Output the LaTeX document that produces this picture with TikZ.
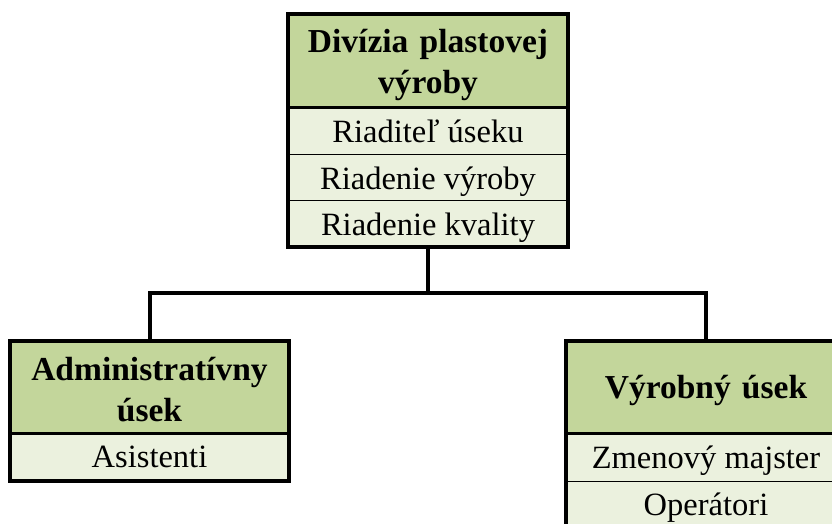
\documentclass[tikz,border=0pt]{standalone}
\usepackage{fontspec}
\setmainfont{Liberation Serif}
\definecolor{hdrgreen}{HTML}{C3D69B}
\definecolor{rowgreen}{HTML}{EBF1DE}
\begin{document}
\begin{tikzpicture}[x=1pt,y=-1pt,
  hdrcell/.style={fill=hdrgreen, inner sep=0pt, minimum width=279pt,
    minimum height=#1},
  hdrtext/.style={inner sep=0pt, anchor=base, text width=272pt, align=center,
    font=\fontsize{33.5}{41.5}\selectfont\bfseries},
  rowcell/.style={fill=rowgreen, inner sep=0pt, minimum width=279pt,
    minimum height=#1, text height=24pt, text depth=0pt,
    font=\fontsize{32.5}{38}\selectfont},
  boxframe/.style={line width=4pt, line join=miter},
  hdrsep/.style={line width=3pt},
  rowsep/.style={line width=1.5pt},
  conn/.style={line width=4pt, line join=miter}]
\clip (0,0) rectangle (832,524);

% division box
\node[hdrcell=93pt] (divh) at (428,60.5) {};
\node[hdrtext] (divt) at (428,52.5) {Divízia plastovej\\výroby};
\node[rowcell=47.5pt] (divr1) at (428,130.75) {Riaditeľ úseku};
\node[rowcell=46pt] (divr2) at (428,177.5) {Riadenie výroby};
\node[rowcell=46.5pt] (divr3) at (428,223.75) {Riadenie kvality};
\draw[hdrsep] (divh.south west) -- (divh.south east);
\draw[rowsep] (divr1.south west) -- (divr1.south east);
\draw[rowsep] (divr2.south west) -- (divr2.south east);
\draw[boxframe] (divh.north west) rectangle (divr3.south east);

% administration box
\node[hdrcell=92pt] (admh) at (149.5,387) {};
\node[hdrtext] (admt) at (149.5,380) {Administratívny\\úsek};
\node[rowcell=48pt, text height=20pt] (admr1) at (149.5,457) {Asistenti};
\draw[hdrsep] (admh.south west) -- (admh.south east);
\draw[boxframe] (admh.north west) rectangle (admr1.south east);

% production box
\node[hdrcell=92pt] (vyrh) at (706,387) {};
\node[hdrtext] (vyrt) at (706,398.5) {Výrobný úsek};
\node[rowcell=48pt, text height=22pt] (vyrr1) at (706,457.25) {Zmenový majster};
\node[rowcell=48pt, text height=20pt] (vyrr2) at (706,505.25) {Operátori};
\draw[hdrsep] (vyrh.south west) -- (vyrh.south east);
\draw[rowsep] (vyrr1.south west) -- (vyrr1.south east);
\draw[boxframe] (vyrh.north west) rectangle (vyrr2.south east);

% connectors
\coordinate (bus) at (706,292.5);
\draw[conn] (divr3.south) -- (divr3.south |- bus);
\draw[conn] (admh.north) |- (bus) -- (vyrh.north);
\end{tikzpicture}
\end{document}
